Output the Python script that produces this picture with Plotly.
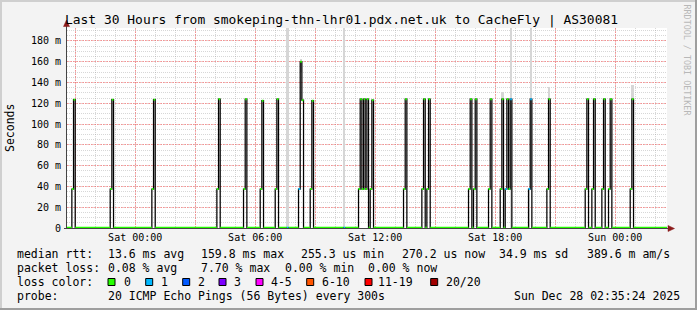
import plotly.graph_objects as go
from datetime import datetime, timedelta

# ---------------- data ----------------
t_start = "2025-12-26 20:35:24"
t_end = "2025-12-28 02:35:24"
baseline_ms = 0.26          # median rtt between spikes
step_min = 5                # probe step (300 s)

# events: start of first 5-min step, median per step (ms), lost pings per step
event_start = [
    "2025-12-26 20:50", "2025-12-26 22:45", "2025-12-27 00:50", "2025-12-27 04:05",
    "2025-12-27 05:25", "2025-12-27 06:15", "2025-12-27 07:00", "2025-12-27 07:35",
    "2025-12-27 08:10", "2025-12-27 08:45", "2025-12-27 10:25", "2025-12-27 11:10",
    "2025-12-27 13:25", "2025-12-27 14:20", "2025-12-27 16:40", "2025-12-27 16:55",
    "2025-12-27 17:40", "2025-12-27 18:15", "2025-12-27 19:40", "2025-12-27 20:35",
    "2025-12-27 22:30", "2025-12-27 22:50", "2025-12-27 23:20", "2025-12-27 23:40",
    "2025-12-28 00:45",
]
event_median_ms = [
    [37.5, 123.5], [37.5, 123.5], [37.5, 123.5], [37.5, 124],
    [37.5, 124], [37.5, 122.5], [37.5, 124], [0.26],
    [37.5, 160, 123], [37.5, 122.5], [0.26], [37.5, 124, 37.5, 124, 37.5, 124, 0.26, 37.5, 123],
    [37.5, 124], [37.5, 124, 0.26, 37.5, 124], [37.5, 124], [37.5, 124],
    [37.5, 124], [37.5, 124, 0.26, 37.5, 124, 37.5, 124], [37.5, 124], [37.5, 124],
    [37.5, 124], [37.5, 124], [37.5, 124], [37.5, 124],
    [37.5, 124],
]
event_loss = [
    [0, 0], [0, 0], [0, 0], [0, 0],
    [0, 0], [0, 0], [0, 0], [1],
    [1, 0, 0], [0, 0], [1], [0, 0, 0, 0, 0, 0, 0, 0, 0],
    [0, 0], [0, 0, 0, 0, 0], [0, 0], [0, 0],
    [0, 0], [0, 0, 0, 1, 0, 0, 1], [1, 1], [0, 0],
    [0, 0], [0, 0], [0, 0], [0, 0],
    [0, 0],
]

# smoke (spread of the individual pings), per 5-min step
smoke_time = ["2025-12-27 07:35", "2025-12-27 08:15", "2025-12-27 10:25", "2025-12-27 18:20",
              "2025-12-27 18:45", "2025-12-27 19:40", "2025-12-27 19:45", "2025-12-27 20:40",
              "2025-12-28 00:50"]
smoke_low_ms = [0, 150, 0, 124, 0, 0, 37, 124, 124]
smoke_high_ms = [200, 163, 200, 131, 200, 37.5, 200, 136, 138]

loss_labels = ["0", "1", "2", "3", "4-5", "6-10", "11-19", "20/20"]
loss_colors = ["#26ff00", "#00b8ff", "#0059ff", "#7e00ff", "#ff00ff", "#ff5500", "#ff0000", "#a10000"]

y_tick_vals = [0, 20, 40, 60, 80, 100, 120, 140, 160, 180]
y_tick_text = ["0", "20 m", "40 m", "60 m", "80 m", "100 m", "120 m", "140 m", "160 m", "180 m"]
x_tick_vals = ["2025-12-26 21:00", "2025-12-27 00:00", "2025-12-27 03:00", "2025-12-27 06:00",
               "2025-12-27 09:00", "2025-12-27 12:00", "2025-12-27 15:00", "2025-12-27 18:00",
               "2025-12-27 21:00", "2025-12-28 00:00"]
x_tick_text = ["", "Sat 00:00", "", "Sat 06:00", "", "Sat 12:00", "", "Sat 18:00", "", "Sun 00:00"]

title_text = "Last 30 Hours from smokeping-thn-lhr01.pdx.net.uk to CacheFly | AS30081"
row_median = [(16, "median rtt:"), (107, "13.6 ms avg"), (200, "159.8 ms max"), (300, "255.3 us min"),
              (400.5, "270.2 us now"), (498, "34.9 ms sd"), (586, "389.6 m am/s")]
row_loss = [(16, "packet loss:"), (107, "0.08 % avg"), (200, "7.70 % max"), (283.5, "0.00 % min"),
            (367, "0.00 % now")]
row_probe = [(16, "probe:"), (107, "20 ICMP Echo Pings (56 Bytes) every 300s"),
             (513.3, "Sun Dec 28 02:35:24 2025")]

# ---------------- layout geometry ----------------
W, H = 697, 310
ML, MT, PW, PH = 67, 28, 600, 200
FONT = "DejaVu Sans Mono"


def px_x(px):
    return (px - ML) / PW


def px_y(py):
    return (MT + PH - py) / PH


def T(s):
    return datetime.fromisoformat(s)


step = timedelta(minutes=step_min)

# change points of the median (step line)
xs, ys, ls = [T(t_start)], [baseline_ms], [0]
for st, meds, losses in zip(event_start, event_median_ms, event_loss):
    t0 = T(st)
    for k, (m, l) in enumerate(zip(meds, losses)):
        xs.append(t0 + k * step)
        ys.append(m)
        ls.append(l)
    xs.append(t0 + len(meds) * step)
    ys.append(baseline_ms)
    ls.append(0)
xs.append(T(t_end))
ys.append(baseline_ms)
ls.append(0)

fig = go.Figure()

# smoke
fig.add_trace(go.Bar(
    x=[T(t) + step / 2 for t in smoke_time],
    base=smoke_low_ms,
    y=[h - l for h, l in zip(smoke_high_ms, smoke_low_ms)],
    width=step_min * 60 * 1000,
    marker=dict(color="#d6d6d6", line=dict(width=0)),
    hoverinfo="skip",
))

# black median step line
fig.add_trace(go.Scatter(x=xs, y=ys, mode="lines",
                         line=dict(shape="hv", color="#000000", width=1.25), hoverinfo="skip"))


def bucket(l):
    if l <= 3:
        return l
    if l <= 5:
        return 4
    if l <= 10:
        return 5
    if l <= 19:
        return 6
    return 7


# loss-coloured median segments
segs = {}
for i in range(len(xs) - 1):
    b = bucket(ls[i])
    sx, sy = segs.setdefault(b, ([], []))
    sx += [xs[i], xs[i + 1], None]
    sy += [ys[i], ys[i], None]
for b, (sx, sy) in segs.items():
    fig.add_trace(go.Scatter(x=sx, y=sy, mode="lines",
                             line=dict(color=loss_colors[b], width=2), hoverinfo="skip"))

shapes = []
# outer frame shading
shapes += [
    dict(type="rect", xref="paper", yref="paper", x0=px_x(0), x1=px_x(W), y0=px_y(0), y1=px_y(2),
         fillcolor="#cfcfcf", line=dict(width=0), layer="above"),
    dict(type="rect", xref="paper", yref="paper", x0=px_x(0), x1=px_x(2), y0=px_y(0), y1=px_y(H),
         fillcolor="#cfcfcf", line=dict(width=0), layer="above"),
    dict(type="rect", xref="paper", yref="paper", x0=px_x(W - 2), x1=px_x(W), y0=px_y(0), y1=px_y(H),
         fillcolor="#9e9e9e", line=dict(width=0), layer="above"),
    dict(type="rect", xref="paper", yref="paper", x0=px_x(0), x1=px_x(W), y0=px_y(H - 2), y1=px_y(H),
         fillcolor="#9e9e9e", line=dict(width=0), layer="above"),
]
# axes
shapes += [
    dict(type="line", xref="paper", yref="paper", x0=px_x(66.5), x1=px_x(66.5), y0=px_y(228.5), y1=px_y(24),
         line=dict(color="#444444", width=1), layer="above"),
    dict(type="line", xref="paper", yref="paper", x0=px_x(64), x1=px_x(671), y0=px_y(228.5), y1=px_y(228.5),
         line=dict(color="#444444", width=1), layer="above"),
    dict(type="path", xref="paper", yref="paper",
         path=f"M {px_x(63.5)},{px_y(26.5)} L {px_x(69.5)},{px_y(26.5)} L {px_x(66.5)},{px_y(20)} Z",
         fillcolor="#8b1a1a", line=dict(color="#8b1a1a", width=0.5), layer="above"),
    dict(type="path", xref="paper", yref="paper",
         path=f"M {px_x(668)},{px_y(225.5)} L {px_x(668)},{px_y(231.5)} L {px_x(674.5)},{px_y(228.5)} Z",
         fillcolor="#8b1a1a", line=dict(color="#8b1a1a", width=0.5), layer="above"),
]

annotations = []


def txt(x, y, s, size=11.5, color="#000000", anchor="left", angle=0):
    annotations.append(dict(x=px_x(x), y=px_y(y), xref="paper", yref="paper", text=s, showarrow=False,
                            xanchor=anchor, yanchor="middle", textangle=angle,
                            font=dict(family=FONT, size=size, color=color), borderpad=0))


txt(63.5, 19.5, title_text, size=12.95)
txt(10, 128, "Seconds", size=11.5, anchor="center", angle=-90)
txt(686.5, 60, "RRDTOOL / TOBI OETIKER", size=8.4, color="#b8b8b8", anchor="center", angle=90)
for x, s in row_median:
    txt(x, 254, s)
for x, s in row_loss:
    txt(x, 268, s)
txt(16, 282, "loss color:")
box_x = [108, 145.7, 182.7, 219, 256, 306.7, 365, 430.7]
lab_x = [122.5, 159.5, 196.5, 233, 270, 321, 376.5, 444.5]
for bx, lx, lab, col in zip(box_x, lab_x, loss_labels, loss_colors):
    shapes.append(dict(type="rect", xref="paper", yref="paper", x0=px_x(bx), x1=px_x(bx + 7),
                       y0=px_y(278.5), y1=px_y(285.5), fillcolor=col,
                       line=dict(color="#000000", width=1), layer="above"))
    txt(lx, 282, lab)
for x, s in row_probe:
    txt(x, 296, s)

fig.update_layout(
    width=W, height=H,
    margin=dict(l=ML, r=W - ML - PW, t=MT, b=H - MT - PH, pad=0),
    paper_bgcolor="#f3f3f3", plot_bgcolor="#ffffff",
    showlegend=False, barmode="overlay", bargap=0,
    shapes=shapes, annotations=annotations,
    xaxis=dict(
        type="date", range=[T(t_start), T(t_end)], fixedrange=True,
        tickmode="array", tickvals=x_tick_vals, ticktext=x_tick_text,
        showgrid=True, gridcolor="rgba(255,70,70,0.45)", griddash="2px,1px", gridwidth=1,
        minor=dict(tickmode="linear", tick0="2025-12-26 21:00", dtick=3600000, showgrid=True,
                   gridcolor="rgba(140,140,140,0.35)", griddash="1px,1px", gridwidth=1),
        showline=False, zeroline=False, ticks="", ticklabelstandoff=2,
        tickfont=dict(family=FONT, size=10, color="#000000"),
    ),
    yaxis=dict(
        range=[0, 192.5], fixedrange=True,
        tickmode="array", tickvals=y_tick_vals, ticktext=y_tick_text,
        showgrid=True, gridcolor="rgba(255,70,70,0.45)", griddash="2px,1px", gridwidth=1,
        minor=dict(tickmode="linear", tick0=0, dtick=5, showgrid=True,
                   gridcolor="rgba(140,140,140,0.35)", griddash="1px,1px", gridwidth=1),
        showline=False, zeroline=False, ticks="", ticklabelstandoff=5,
        tickfont=dict(family=FONT, size=10, color="#000000"),
    ),
)

fig.write_html("out.html")
